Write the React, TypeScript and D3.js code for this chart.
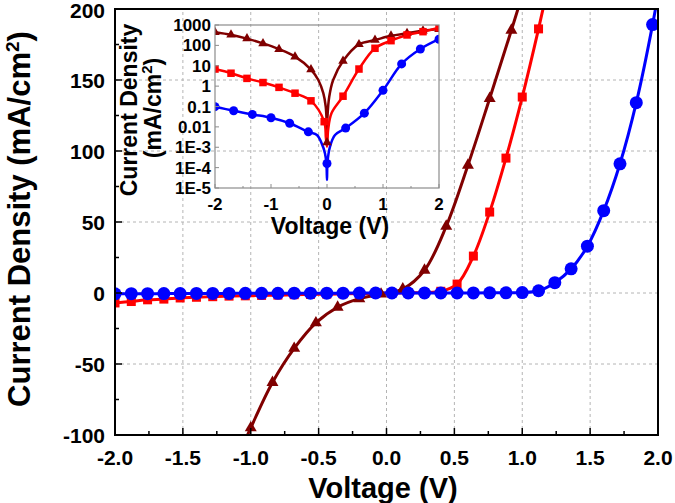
import React from 'react';
import * as d3 from 'd3';

// ---------- Main plot data (Voltage V, Current density mA/cm^2) ----------
const blueV = [-2.00,-1.88,-1.76,-1.64,-1.52,-1.40,-1.28,-1.16,-1.04,-0.92,-0.80,-0.68,-0.56,-0.44,-0.32,-0.20,-0.08,0.04,0.16,0.28,0.40,0.52,0.64,0.76,0.88,1.00,1.12,1.24,1.36,1.48,1.60,1.72,1.84,1.96,2.08];
const blueJ = [-0.6,-0.5,-0.5,-0.4,-0.4,-0.3,-0.3,-0.3,-0.2,-0.2,-0.2,-0.1,-0.1,-0.1,-0.1,-0.05,0,0,0,0,0,0,0.05,0.1,0.15,0.3,1.6,7.3,17,33,58,91,134,189,255];

const redV = [-2.00,-1.88,-1.76,-1.64,-1.52,-1.40,-1.28,-1.16,-1.04,-0.92,-0.80,-0.68,-0.56,-0.44,-0.32,-0.20,-0.08,0.04,0.16,0.28,0.40,0.52,0.64,0.76,0.88,1.00,1.12,1.24];
const redJ = [-7,-6,-4.8,-4.3,-3.5,-3,-2.6,-2.2,-2,-1.7,-1.5,-1.2,-1,-0.8,-0.6,-0.4,-0.15,0,0.1,0.35,1.2,6.3,26,57,95,138,186,238];

const darkV = [-1.16,-1.00,-0.84,-0.68,-0.52,-0.36,-0.20,-0.04,0.12,0.28,0.44,0.60,0.76,0.92,1.08];
const darkJ = [-130,-95,-63,-39,-21,-10,-4,-0.8,2.8,16,47,90,137,185,235];

// ---------- Inset data (log |J|) ----------
const insetBlueV = [-2,-1.667,-1.333,-1,-0.667,-0.333,0,0.333,0.667,1,1.333,1.667,2];
const insetBlueJ = [0.098,0.062,0.041,0.028,0.015,0.0057,1.6e-4,0.0087,0.047,0.62,12.3,66,200];
const insetBlueCuspV = [-0.18,-0.095,-0.036,-0.01,0,0.01,0.054,0.143];
const insetBlueCuspJ = [4e-3,1.55e-3,5e-4,1.5e-4,2.5e-5,2e-4,1.07e-3,4e-3];

const insetRedV = [-2.000,-1.714,-1.429,-1.143,-0.857,-0.571,-0.286,-0.050,0.286,0.571,0.857,1.143,1.429,1.714,2.000];
const insetRedJ = [6.9,4.3,2.4,1.5,0.87,0.45,0.19,0.018,0.32,6.9,72,170,325,470,740];
const insetRedCuspV = [-0.02,0,0.02,0.08];
const insetRedCuspJ = [3e-3,1.07e-3,7e-3,0.047];

const insetDarkV = [-2.000,-1.714,-1.429,-1.143,-0.857,-0.571,-0.286,0.000,0.286,0.571,0.857,1.143,1.429,1.714,2.000];
const insetDarkJ = [440,330,215,125,65,28,6.5,1.7e-3,17,112,182,295,390,525,615];
const insetDarkCuspV = [-0.155,-0.066,-0.023,-0.008,0.008,0.04,0.11];
const insetDarkCuspJ = [2.0,0.45,0.1,0.022,0.03,0.3,2.0];

// ---------- Ticks ----------
const xMajorTicks = [-2,-1.5,-1,-0.5,0,0.5,1,1.5,2];
const xMinorTicks = [-1.75,-1.25,-0.75,-0.25,0.25,0.75,1.25,1.75];
const yMajorTicks = [-100,-50,0,50,100,150,200];
const yMinorTicks = [-75,-25,25,75,125,175];
const insetXTicks = [-2,-1,0,1,2];
const insetXMinor = [-1.5,-0.5,0.5,1.5];
const insetYTicks = [1e-5,1e-4,1e-3,1e-2,1e-1,1,10,100,1000];
const insetYLabels = ['1E-5','1E-4','1E-3','0.01','0.1','1','10','100','1000'];

const FONT = '"Liberation Sans", Arial, Helvetica, sans-serif';
const BLUE = '#0000ff';
const RED = '#ff0000';
const DARK = '#800000';

type P = [number, number];
const zip = (a: number[], b: number[]): P[] => a.map((v, i) => [v, b[i]] as P);

function tri(cx: number, cy: number, s: number) {
  const h = s * Math.sqrt(3) / 2;
  return `M${cx},${cy - h * 2 / 3}L${cx + s / 2},${cy + h / 3}L${cx - s / 2},${cy + h / 3}Z`;
}

export default function App() {
  const x = d3.scaleLinear().domain([-2, 2]).range([115, 658]);
  const y = d3.scaleLinear().domain([-100, 200]).range([435, 9]);
  const xi = d3.scaleLinear().domain([-2, 2]).range([215, 439]);
  const yi = d3.scaleLog().domain([1e-5, 1e3]).range([188, 25]);

  const mainLine = d3.line<P>().x(d => x(d[0])).y(d => y(d[1])).curve(d3.curveCatmullRom.alpha(0.5));
  const insetLine = d3.line<P>().x(d => xi(d[0])).y(d => yi(d[1])).curve(d3.curveCatmullRom.alpha(0.5));

  const blue = zip(blueV, blueJ);
  const red = zip(redV, redJ);
  const dark = zip(darkV, darkJ);

  const iBlue = zip(insetBlueV, insetBlueJ);
  const iRed = zip(insetRedV, insetRedJ);
  const iDark = zip(insetDarkV, insetDarkJ);
  const merge = (m: P[], c: P[], dropZero: boolean) =>
    [...m.filter(p => !(dropZero && p[0] === 0)), ...c].sort((a, b) => a[0] - b[0]);
  const iBlueLine = merge(iBlue, zip(insetBlueCuspV, insetBlueCuspJ), true);
  const iRedLine = merge(iRed, zip(insetRedCuspV, insetRedCuspJ), false);
  const iDarkLine = merge(iDark, zip(insetDarkCuspV, insetDarkCuspJ), false);

  const [x0, x1] = x.range();
  const [y0, y1] = y.range(); // y0 bottom, y1 top
  const gridStyle = { stroke: '#b4b4b4', strokeWidth: 1, strokeDasharray: '3,3' };

  const [ix0, ix1] = xi.range();
  const [iy0, iy1] = yi.range();

  return (
    <svg width={675} height={503} style={{ position: 'absolute', left: 0, top: 0, background: '#fff' }}
      fontFamily={FONT} fontWeight="bold">
      <defs>
        <clipPath id="mainClip"><rect x={x0} y={y1} width={x1 - x0} height={y0 - y1} /></clipPath>
        <clipPath id="insetClip"><rect x={ix0} y={iy1} width={ix1 - ix0} height={iy0 - iy1} /></clipPath>
      </defs>
      <rect x={0} y={0} width={675} height={503} fill="#fff" />

      {/* main gridlines */}
      {xMajorTicks.slice(1, -1).map(t => (
        <line key={'gx' + t} x1={x(t)} x2={x(t)} y1={y0} y2={y1} {...gridStyle} />
      ))}
      {yMajorTicks.slice(1, -1).map(t => (
        <line key={'gy' + t} x1={x0} x2={x1} y1={y(t)} y2={y(t)} {...gridStyle} />
      ))}

      {/* main series */}
      <g clipPath="url(#mainClip)">
        <path d={mainLine(dark) || ''} fill="none" stroke={DARK} strokeWidth={3} />
        <path d={mainLine(red) || ''} fill="none" stroke={RED} strokeWidth={3} />
        <path d={mainLine(blue) || ''} fill="none" stroke={BLUE} strokeWidth={3} />
        {dark.map((d, i) => <path key={'dt' + i} d={tri(x(d[0]), y(d[1]), 12)} fill={DARK} />)}
        {red.map((d, i) => <rect key={'rs' + i} x={x(d[0]) - 4.5} y={y(d[1]) - 4.5} width={9} height={9} fill={RED} />)}
        {blue.map((d, i) => <circle key={'bc' + i} cx={x(d[0])} cy={y(d[1])} r={6.5} fill={BLUE} />)}
      </g>

      {/* main frame */}
      <rect x={x0} y={y1} width={x1 - x0} height={y0 - y1} fill="none" stroke="#000" strokeWidth={2} />

      {/* main ticks */}
      {xMajorTicks.map(t => <line key={'xt' + t} x1={x(t)} x2={x(t)} y1={y0} y2={y0 - 7} stroke="#000" strokeWidth={1.5} />)}
      {xMinorTicks.map(t => <line key={'xm' + t} x1={x(t)} x2={x(t)} y1={y0} y2={y0 - 4} stroke="#000" strokeWidth={1.5} />)}
      {yMajorTicks.map(t => <line key={'yt' + t} x1={x0} x2={x0 + 7} y1={y(t)} y2={y(t)} stroke="#000" strokeWidth={1.5} />)}
      {yMinorTicks.map(t => <line key={'ym' + t} x1={x0} x2={x0 + 4} y1={y(t)} y2={y(t)} stroke="#000" strokeWidth={1.5} />)}

      {/* main tick labels */}
      {xMajorTicks.map(t => (
        <text key={'xl' + t} x={x(t)} y={465} fontSize={21} textAnchor="middle" fill="#000">{t.toFixed(1)}</text>
      ))}
      {yMajorTicks.map(t => (
        <text key={'yl' + t} x={105} y={Math.max(y(t) + 7.5, 18)} fontSize={21} textAnchor="end" fill="#000">{String(t)}</text>
      ))}

      {/* main axis titles */}
      <text x={383} y={498} fontSize={29} textAnchor="middle" fill="#000">Voltage (V)</text>
      <text transform="translate(30,219) rotate(-90)" fontSize={31} textAnchor="middle" fill="#000">
        Current Density (mA/cm<tspan fontSize={19} dy={-11}>2</tspan><tspan dy={11}>)</tspan>
      </text>

      {/* ---------- inset ---------- */}
      <g clipPath="url(#insetClip)">
        <path d={insetLine(iDarkLine) || ''} fill="none" stroke={DARK} strokeWidth={2.5} />
        <path d={insetLine(iRedLine) || ''} fill="none" stroke={RED} strokeWidth={2.5} />
        <path d={insetLine(iBlueLine) || ''} fill="none" stroke={BLUE} strokeWidth={2.5} />
        {iDark.map((d, i) => <path key={'idt' + i} d={tri(xi(d[0]), yi(d[1]), 9.5)} fill={DARK} />)}
        {iRed.map((d, i) => <rect key={'irs' + i} x={xi(d[0]) - 3.75} y={yi(d[1]) - 3.75} width={7.5} height={7.5} fill={RED} />)}
        {iBlue.map((d, i) => <circle key={'ibc' + i} cx={xi(d[0])} cy={yi(d[1])} r={4.5} fill={BLUE} />)}
      </g>
      <rect x={ix0} y={iy1} width={ix1 - ix0} height={iy0 - iy1} fill="none" stroke="#8c8c8c" strokeWidth={1.2} />
      {insetXTicks.map(t => <line key={'ixt' + t} x1={xi(t)} x2={xi(t)} y1={iy0} y2={iy0 - 4} stroke="#8c8c8c" strokeWidth={1} />)}
      {insetXMinor.map(t => <line key={'ixm' + t} x1={xi(t)} x2={xi(t)} y1={iy0} y2={iy0 - 2} stroke="#8c8c8c" strokeWidth={1} />)}
      {insetYTicks.map(t => <line key={'iyt' + t} x1={ix0} x2={ix0 + 4} y1={yi(t)} y2={yi(t)} stroke="#8c8c8c" strokeWidth={1} />)}

      {insetXTicks.map(t => (
        <text key={'ixl' + t} x={xi(t)} y={210} fontSize={17} textAnchor="middle" fill="#000">{String(t)}</text>
      ))}
      {insetYTicks.map((t, i) => (
        <text key={'iyl' + t} x={211} y={yi(t) + 6} fontSize={17} textAnchor="end" fill="#000">{insetYLabels[i]}</text>
      ))}
      <text x={330} y={234} fontSize={23} textAnchor="middle" fill="#000">Voltage (V)</text>
      <text transform="translate(137,110) rotate(-90)" fontSize={23} textAnchor="middle" fill="#000">Current Density</text>
      <text transform="translate(161,108) rotate(-90)" fontSize={23} textAnchor="middle" fill="#000">
        (mA/cm<tspan fontSize={15} dy={-9}>2</tspan><tspan dy={9}>)</tspan>
      </text>
    </svg>
  );
}
